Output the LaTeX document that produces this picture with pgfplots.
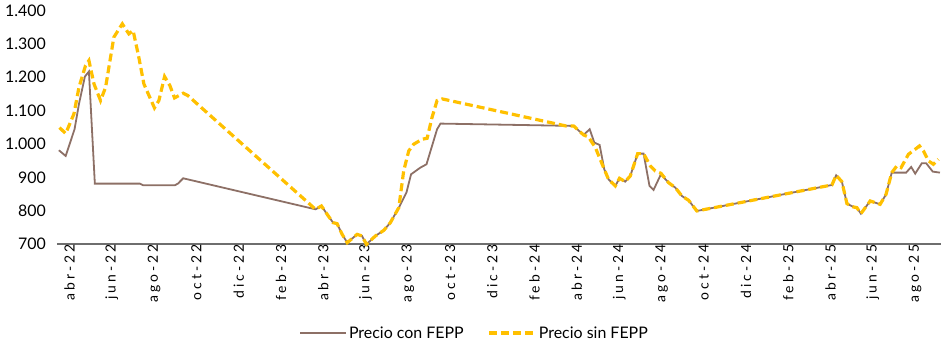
\documentclass[border=0pt]{standalone}
\usepackage{fontspec}
\setmainfont{Lato}
\newfontfamily\tickfont[LetterSpace=22]{Lato}
\usepackage{pgfplots}
\pgfplotsset{compat=1.18}
\definecolor{cbrown}{RGB}{141,112,102}
\definecolor{cyellow}{RGB}{255,192,0}
\definecolor{caxis}{RGB}{110,110,110}
\begin{document}
\begin{tikzpicture}
\begin{axis}[
  at={(0,0)}, anchor=south west,
  scale only axis,
  width=884bp, height=233.5bp,
  xmin=-0.17, xmax=41.65,
  ymin=700, ymax=1400,
  axis x line*=bottom, axis y line*=left,
  y axis line style={draw=none},
  x axis line style={draw=caxis, line width=1.2bp, -},
  major tick length=0pt,
  xtick={0,2,...,40},
  xticklabels={abr-22,jun-22,ago-22,oct-22,dic-22,feb-23,abr-23,jun-23,ago-23,oct-23,dic-23,feb-24,abr-24,jun-24,ago-24,oct-24,dic-24,feb-25,abr-25,jun-25,ago-25},
  xticklabel style={rotate=90, anchor=east, inner sep=0pt, yshift=-9bp, font=\fontsize{14}{16}\tickfont},
  ytick={700,800,...,1400},
  yticklabel style={anchor=east, inner sep=0pt, xshift=-11bp, font=\fontsize{16}{18}\selectfont},
  /pgf/number format/.cd, 1000 sep={.}, assume math mode=true,
  /pgfplots/.cd,
  clip=false,
  legend columns=2,
  legend style={draw=none, at={(0.4723,-0.381)}, anchor=center, font=\fontsize{16}{18}\selectfont, inner sep=0pt,
    /tikz/every even column/.append style={column sep=22bp}},
  legend image code/.code={\draw[#1] (0bp,0bp) -- (46bp,0bp);},
]
\addplot[cbrown, line width=1.8bp] coordinates {
(-0.08,981) (0.24,964) (0.66,1044) (0.87,1120) (1.15,1202) (1.34,1217)
(1.62,881) (3.75,881) (3.91,876) (5.4,876) (5.55,881) (5.8,897)
(12.06,804) (12.34,814) (12.61,789) (12.89,764) (13.08,761) (13.32,729)
(13.56,704) (14.03,729) (14.26,724) (14.47,699) (14.89,724) (15.29,741)
(15.6,764) (16.0,809) (16.36,854) (16.58,909) (17.02,929) (17.31,939)
(17.81,1044) (17.97,1061) (24.27,1054) (24.74,1027) (25.03,1044) (25.25,1004)
(25.5,997) (25.72,924) (25.92,894) (26.24,874) (26.44,897) (26.71,887)
(26.95,904) (27.3,971) (27.58,971) (27.86,874) (28.05,862) (28.4,909)
(28.76,884) (29.08,869) (29.39,844) (29.71,831) (30.1,799) (36.49,877)
(36.69,906) (36.96,887) (37.2,821) (37.51,811) (37.67,809) (37.86,791)
(38.3,829) (38.77,819) (39.05,849) (39.32,914) (40.0,914) (40.24,931)
(40.43,911) (40.74,942) (40.95,942) (41.26,917) (41.6,914)
};
\addlegendentry{Precio con FEPP}
\addplot[cyellow, line width=3.2bp, dash pattern=on 8bp off 4bp] coordinates {
(-0.05,1049) (0.24,1031) (0.63,1090) (0.87,1170) (1.18,1235) (1.34,1250)
(1.58,1180) (1.89,1130) (2.13,1170) (2.52,1320) (2.92,1360) (3.23,1330)
(3.43,1340) (3.7,1260) (3.94,1180) (4.44,1108) (4.65,1130) (4.92,1202)
(5.17,1175) (5.39,1138) (5.8,1152) (6.02,1145) (12.06,804)
(12.34,814) (12.61,789) (12.89,764) (13.08,761) (13.32,729)
(13.56,704) (14.03,729) (14.26,724) (14.47,699) (14.89,724) (15.29,741)
(15.6,764) (16.0,809) (16.23,919) (16.47,979) (16.7,999) (17.1,1014)
(17.34,1017) (17.57,1079) (17.81,1130) (18.05,1135) (23.9,1054) (24.27,1054)
(24.74,1027) (24.97,1021) (25.3,989) (25.72,924) (25.92,894) (26.24,874)
(26.44,897) (26.71,887) (26.95,904) (27.3,971) (27.58,971) (27.9,934)
(28.13,919) (28.4,912) (28.76,884) (29.08,869) (29.39,844) (29.71,831)
(30.1,799) (36.49,877) (36.69,906) (36.96,887) (37.2,821) (37.51,811)
(37.67,809) (37.86,791) (38.3,829) (38.77,819) (39.05,849) (39.32,914)
(39.56,934) (39.76,929) (40.11,969) (40.43,984) (40.63,994) (40.82,979)
(41.06,949) (41.29,939) (41.53,954)
};
\addlegendentry{Precio sin FEPP}
\end{axis}
\pgfresetboundingbox
\path[use as bounding box] (-57bp,-111bp) rectangle (884bp,244bp);
\end{tikzpicture}
\end{document}
